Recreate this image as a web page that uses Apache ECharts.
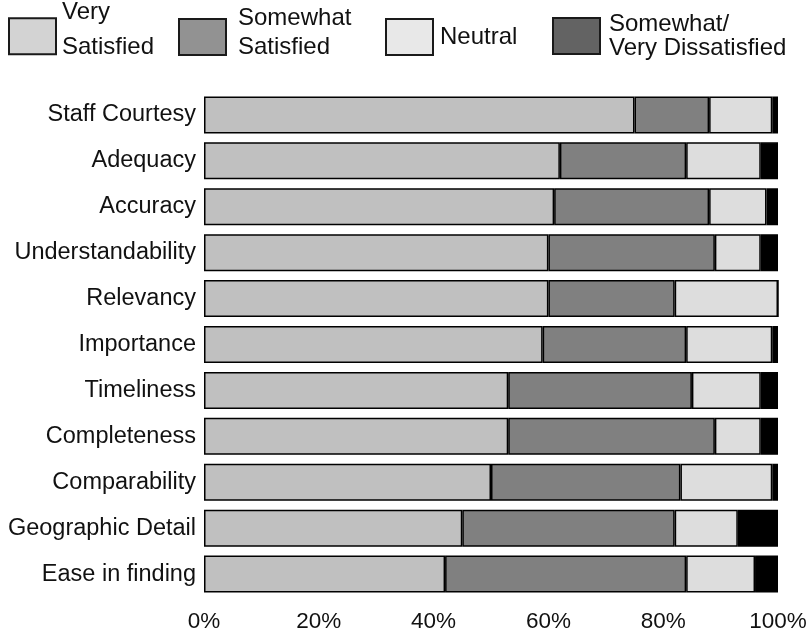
<!DOCTYPE html>
<html>
<head>
<meta charset="utf-8">
<script src="https://cdn.jsdelivr.net/npm/echarts@6/dist/echarts.min.js"></script>
<style>
  html, body { margin: 0; padding: 0; background: #fff; }
  #chart { width: 810px; height: 633px; }
</style>
</head>
<body>
<div id="chart"></div>
<script>
// Survey aspects, top to bottom
const categories = [
  'Staff Courtesy', 'Adequacy', 'Accuracy', 'Understandability', 'Relevancy',
  'Importance', 'Timeliness', 'Completeness', 'Comparability',
  'Geographic Detail', 'Ease in finding'
];

// Share of responses (%) for each rating
const verySatisfied     = [75, 62, 61, 60, 60, 59, 53, 53, 50, 45, 42];
const somewhatSatisfied = [13, 22, 27, 29, 22, 25, 32, 36, 33, 37, 42];
const neutral           = [11, 13, 10,  8, 18, 15, 12,  8, 16, 11, 12];
const dissatisfied      = [ 1,  3,  2,  3,  0,  1,  3,  3,  1,  7,  4];

const xTicks = [0, 20, 40, 60, 80, 100];

const FONT = "'Liberation Sans', Arial, sans-serif";

// Legend entries are placed one by one. Two-line captions get an extra
// blank "spacer" line of height `lift`, which raises the text block
// relative to the swatch centre.
const ratings = [
  { name: 'Very Satisfied', lines: ['Very', 'Satisfied'], data: verySatisfied,
    bar: '#c0c0c0', icon: '#d3d3d3',
    left: 8, lineHeight: 35, lift: 13.6, padLeft: 1 },
  { name: 'Somewhat Satisfied', lines: ['Somewhat', 'Satisfied'], data: somewhatSatisfied,
    bar: '#808080', icon: '#929292',
    left: 178, lineHeight: 29, lift: 9, padLeft: 7 },
  { name: 'Neutral', lines: ['Neutral'], data: neutral,
    bar: '#dddddd', icon: '#e8e8e8',
    left: 385, lineHeight: 28, lift: 0, padLeft: 2 },
  { name: 'Somewhat/Very Dissatisfied', lines: ['Somewhat/', 'Very Dissatisfied'], data: dissatisfied,
    bar: '#000000', icon: '#636363',
    left: 552, lineHeight: 24, lift: 0, padLeft: 4 }
];

const SWATCH_W = 47;
const SWATCH_H = 36;
const SWATCH_CENTER_Y = 36;

function legendFor(r) {
  const textH = r.lines.length * r.lineHeight + r.lift;
  const boxH = Math.max(textH, SWATCH_H);
  let text = r.lines.map(s => '{a|' + s + '}').join('\n');
  let top = SWATCH_CENTER_Y - boxH / 2;
  if (r.lift > 0) {
    text += '\n{b| }';
    // the spacer line is not counted in the legend's layout box
    top += r.lift / 2 - 1;
  }
  return {
    left: r.left,
    top: top,
    padding: 0,
    icon: 'rect',
    itemWidth: SWATCH_W,
    itemHeight: SWATCH_H,
    itemGap: 0,
    selectedMode: false,
    data: [{
      name: r.name,
      itemStyle: { color: r.icon, borderColor: '#1a1a1a', borderWidth: 2 }
    }],
    formatter: () => text,
    textStyle: {
      fontFamily: FONT, fontSize: 24, color: '#111',
      padding: [0, 0, 0, r.padLeft],
      rich: {
        a: { fontFamily: FONT, fontSize: 24, color: '#111', lineHeight: r.lineHeight },
        b: { fontSize: 2, lineHeight: r.lift }
      }
    }
  };
}

const chart = echarts.init(document.getElementById('chart'), null, { renderer: 'canvas' });

chart.setOption({
  animation: false,
  backgroundColor: '#ffffff',
  textStyle: { fontFamily: FONT },
  legend: ratings.map(legendFor),
  grid: { left: 204, right: 32, top: 92, bottom: 36, containLabel: false },
  xAxis: {
    type: 'value',
    min: xTicks[0],
    max: xTicks[xTicks.length - 1],
    interval: xTicks[1] - xTicks[0],
    axisLine: { show: false },
    axisTick: { show: false },
    splitLine: { show: false },
    axisLabel: {
      formatter: v => v + '%',
      fontFamily: FONT,
      fontSize: 22.5,
      color: '#111',
      margin: 13
    }
  },
  yAxis: {
    type: 'category',
    data: categories,
    inverse: true,
    axisLine: { show: false },
    axisTick: { show: false },
    axisLabel: {
      fontFamily: FONT,
      fontSize: 23.5,
      color: '#111',
      margin: 8
    }
  },
  series: ratings.map(r => ({
    name: r.name,
    type: 'bar',
    stack: 'total',
    barWidth: 37,
    data: r.data,
    itemStyle: { color: r.bar, borderColor: '#000', borderWidth: 1.5 }
  }))
});
</script>
</body>
</html>
